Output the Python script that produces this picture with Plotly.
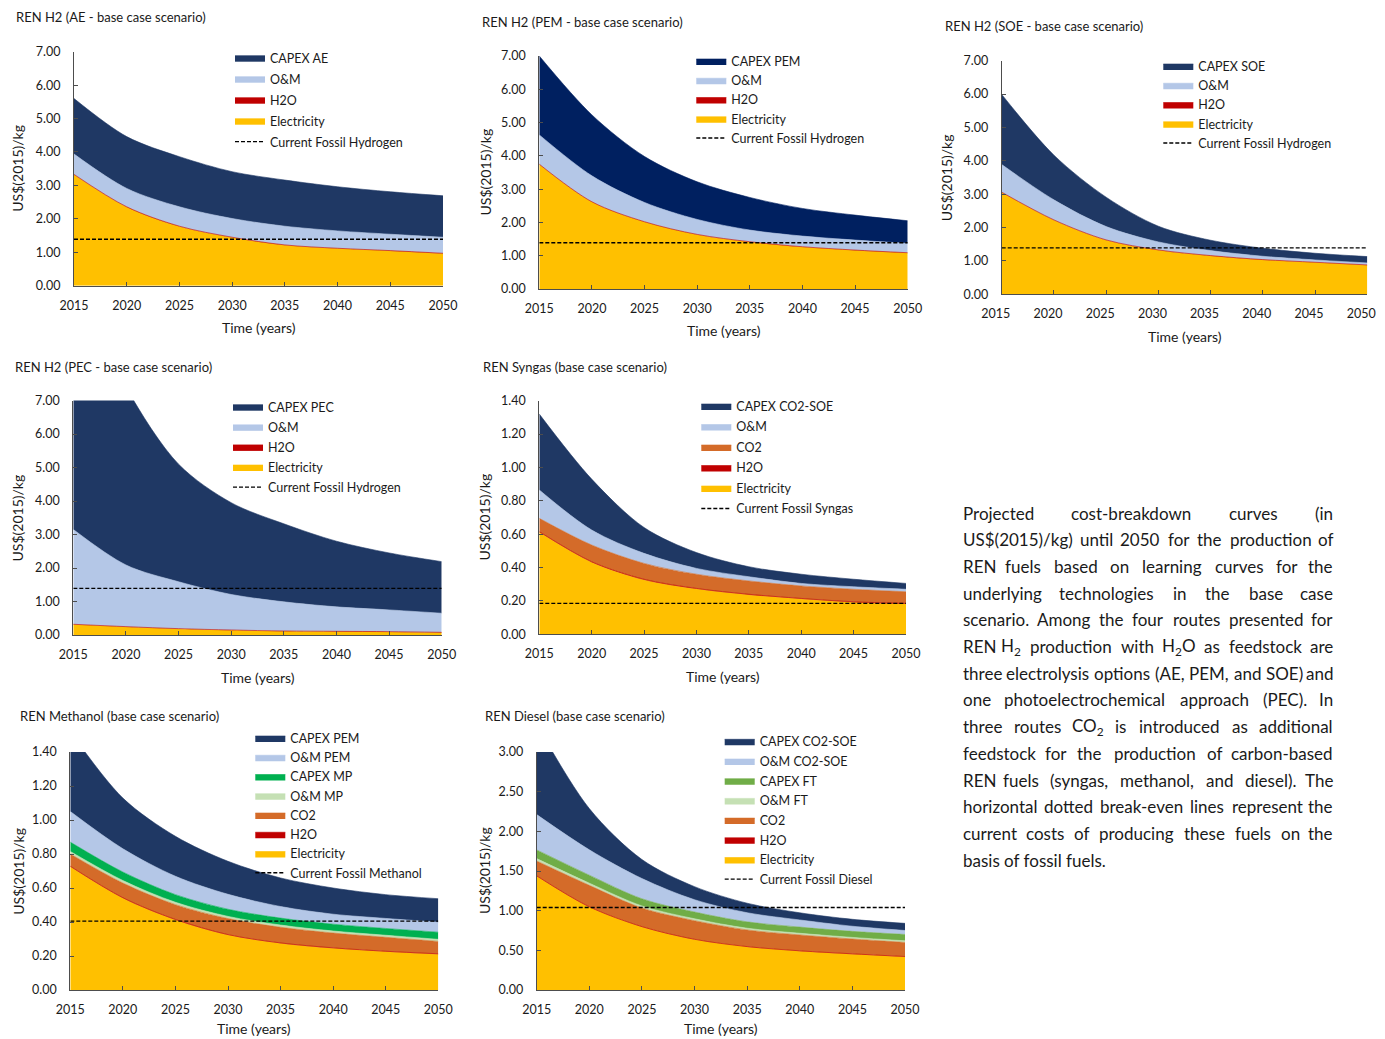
import re
import plotly.graph_objects as go

# page offset of the plot div (browser body margin) and figure size
OFF = 8
WF, HF = 1377, 1031
YEARS = [2015, 2020, 2025, 2030, 2035, 2040, 2045, 2050]
YEAR_TICKS = [2015, 2020, 2025, 2030, 2035, 2040, 2045, 2050]

# ---------------- data (US$(2015)/kg, stacked components) ----------------
AE_ELEC = [3.32, 2.35, 1.77, 1.44, 1.21, 1.11, 1.04, 0.96]
AE_H2O = [0.01, 0.01, 0.01, 0.01, 0.01, 0.01, 0.01, 0.01]
AE_OM = [0.61, 0.55, 0.58, 0.56, 0.56, 0.52, 0.49, 0.48]
AE_CAPEX = [1.66, 1.55, 1.50, 1.40, 1.38, 1.32, 1.27, 1.24]

PEM_ELEC = [3.74, 2.61, 2.01, 1.63, 1.41, 1.26, 1.16, 1.08]
PEM_H2O = [0.01, 0.01, 0.01, 0.01, 0.01, 0.01, 0.01, 0.01]
PEM_OM = [0.88, 0.78, 0.58, 0.45, 0.35, 0.32, 0.30, 0.28]
PEM_CAPEX = [2.37, 1.83, 1.38, 1.13, 0.98, 0.83, 0.75, 0.68]

SOE_ELEC = [3.05, 2.22, 1.62, 1.32, 1.15, 1.03, 0.95, 0.87]
SOE_H2O = [0.01, 0.01, 0.01, 0.01, 0.01, 0.01, 0.01, 0.01]
SOE_OM = [0.83, 0.60, 0.40, 0.24, 0.15, 0.10, 0.07, 0.06]
SOE_CAPEX = [2.10, 1.34, 0.88, 0.47, 0.31, 0.24, 0.20, 0.19]

PEC_ELEC = [0.31, 0.24, 0.18, 0.14, 0.11, 0.10, 0.09, 0.07]
PEC_H2O = [0.01, 0.01, 0.01, 0.01, 0.01, 0.01, 0.01, 0.01]
PEC_OM = [2.83, 1.84, 1.40, 1.06, 0.87, 0.73, 0.65, 0.57]
PEC_CAPEX = [7.65, 5.31, 3.51, 2.74, 2.33, 1.96, 1.70, 1.54]

SYN_ELEC = [0.611, 0.431, 0.326, 0.271, 0.236, 0.211, 0.191, 0.181]
SYN_H2O = [0.004, 0.004, 0.004, 0.004, 0.004, 0.004, 0.004, 0.004]
SYN_CO2 = [0.080, 0.100, 0.095, 0.085, 0.080, 0.075, 0.075, 0.070]
SYN_OM = [0.170, 0.090, 0.060, 0.035, 0.025, 0.015, 0.015, 0.015]
SYN_CAPEX = [0.455, 0.305, 0.155, 0.095, 0.060, 0.055, 0.045, 0.035]

MEOH_ELEC = [0.725, 0.540, 0.412, 0.323, 0.274, 0.245, 0.225, 0.210]
MEOH_H2O = [0.003, 0.003, 0.003, 0.003, 0.003, 0.003, 0.003, 0.003]
MEOH_CO2 = [0.072, 0.086, 0.087, 0.094, 0.092, 0.087, 0.082, 0.073]
MEOH_OM_MP = [0.015, 0.015, 0.014, 0.013, 0.013, 0.012, 0.012, 0.012]
MEOH_CAPEX_MP = [0.055, 0.050, 0.045, 0.042, 0.041, 0.040, 0.040, 0.042]
MEOH_OM_PEM = [0.180, 0.137, 0.108, 0.088, 0.068, 0.059, 0.059, 0.059]
MEOH_CAPEX_PEM = [0.470, 0.298, 0.235, 0.194, 0.168, 0.154, 0.140, 0.138]

DSL_ELEC = [1.435, 1.045, 0.795, 0.635, 0.543, 0.490, 0.452, 0.418]
DSL_H2O = [0.004, 0.004, 0.004, 0.004, 0.004, 0.004, 0.004, 0.004]
DSL_CO2 = [0.187, 0.270, 0.235, 0.235, 0.210, 0.200, 0.187, 0.178]
DSL_OM_FT = [0.030, 0.028, 0.026, 0.024, 0.022, 0.021, 0.020, 0.020]
DSL_CAPEX_FT = [0.110, 0.100, 0.090, 0.085, 0.080, 0.078, 0.076, 0.080]
DSL_OM_SOE = [0.445, 0.320, 0.255, 0.155, 0.115, 0.090, 0.065, 0.050]
DSL_CAPEX_SOE = [1.140, 0.520, 0.240, 0.165, 0.120, 0.090, 0.087, 0.090]

FOSSIL_H2 = 1.39
FOSSIL_SYNGAS = 0.185
FOSSIL_METHANOL = 0.405
FOSSIL_DIESEL = 1.04

BODY_LINES = [
    "Projected cost-breakdown curves (in",
    "US$(2015)/kg) until 2050 for the production of",
    "REN fuels based on learning curves for the",
    "underlying technologies in the base case",
    "scenario. Among the four routes presented for",
    "REN H<sub>2</sub> production with H<sub>2</sub>O as feedstock are",
    "three electrolysis options (AE, PEM, and SOE) and",
    "one photoelectrochemical approach (PEC). In",
    "three routes CO<sub>2</sub> is introduced as additional",
    "feedstock for the production of carbon-based",
    "REN fuels (syngas, methanol, and diesel). The",
    "horizontal dotted break-even lines represent the",
    "current costs of producing these fuels on the",
    "basis of fossil fuels.",
]

# ---------------- styling ----------------
FONT = "Lato"
TXT = "#1a1a1a"
AX = "#4d4d4d"
C_CAPEX = "#1F3864"
C_CAPEX_PEM = "#002060"
C_OM = "#B4C7E7"
C_H2O = "#C00000"
C_ELEC = "#FFC000"
C_CO2 = "#D46B29"
C_CAPEX_MP = "#00B050"
C_OM_MP = "#C5E0B4"
C_CAPEX_FT = "#70AD47"
C_OM_FT = "#C5E0B4"

# page-pixel layout of each panel
PANELS = [
    dict(title="REN H2 (AE - base case scenario)", box=(74, 443, 51.7, 285.7), ymax=7, dtick=1,
         layers=[("Electricity", AE_ELEC, C_ELEC), ("H2O", AE_H2O, C_H2O), ("O&M", AE_OM, C_OM),
                 ("CAPEX AE", AE_CAPEX, C_CAPEX)],
         fossil=(FOSSIL_H2, "Current Fossil Hydrogen"), tpos=(14, 17.5), ytx=18, leg=(237, 57.7, 21)),
    dict(title="REN H2 (PEM - base case scenario)", box=(539.3, 907.7, 56, 289), ymax=7, dtick=1,
         layers=[("Electricity", PEM_ELEC, C_ELEC), ("H2O", PEM_H2O, C_H2O), ("O&M", PEM_OM, C_OM),
                 ("CAPEX PEM", PEM_CAPEX, C_CAPEX_PEM)],
         fossil=(FOSSIL_H2, "Current Fossil Hydrogen"), tpos=(480, 22.5), ytx=485, leg=(698.3, 61, 18.1)),
    dict(title="REN H2 (SOE - base case scenario)", box=(1001.7, 1367.3, 60.7, 294.3), ymax=7, dtick=1,
         layers=[("Electricity", SOE_ELEC, C_ELEC), ("H2O", SOE_H2O, C_H2O), ("O&M", SOE_OM, C_OM),
                 ("CAPEX SOE", SOE_CAPEX, C_CAPEX)],
         fossil=(FOSSIL_H2, "Current Fossil Hydrogen"), tpos=(943.3, 26.5), ytx=946.7, leg=(1165.3, 66, 19.2),
         xshift=-6),
    dict(title="REN H2 (PEC - base case scenario)", box=(73.3, 441.7, 400.5, 635), ymax=7, dtick=1,
         layers=[("Electricity", PEC_ELEC, C_ELEC), ("H2O", PEC_H2O, C_H2O), ("O&M", PEC_OM, C_OM),
                 ("CAPEX PEC", PEC_CAPEX, C_CAPEX)],
         fossil=(FOSSIL_H2, "Current Fossil Hydrogen"), tpos=(13.3, 366.7), ytx=17.7, leg=(235, 406.7, 20.1)),
    dict(title="REN Syngas (base case scenario)", box=(539.3, 906, 400.7, 634.3), ymax=1.4, dtick=0.2,
         layers=[("Electricity", SYN_ELEC, C_ELEC), ("H2O", SYN_H2O, C_H2O), ("CO2", SYN_CO2, C_CO2),
                 ("O&M", SYN_OM, C_OM), ("CAPEX CO2-SOE", SYN_CAPEX, C_CAPEX)],
         fossil=(FOSSIL_SYNGAS, "Current Fossil Syngas"), tpos=(480.7, 366.7), ytx=484, leg=(703.3, 406, 20.5)),
    dict(title="REN Methanol (base case scenario)", box=(70.3, 438.3, 752, 990), ymax=1.4, dtick=0.2,
         layers=[("Electricity", MEOH_ELEC, C_ELEC), ("H2O", MEOH_H2O, C_H2O), ("CO2", MEOH_CO2, C_CO2),
                 ("O&M MP", MEOH_OM_MP, C_OM_MP), ("CAPEX MP", MEOH_CAPEX_MP, C_CAPEX_MP),
                 ("O&M PEM", MEOH_OM_PEM, C_OM), ("CAPEX PEM", MEOH_CAPEX_PEM, C_CAPEX)],
         fossil=(FOSSIL_METHANOL, "Current Fossil Methanol"), tpos=(17.7, 715.7), ytx=17.7, leg=(257.3, 738, 17.6)),
    dict(title="REN Diesel (base case scenario)", box=(536.7, 905, 752, 990), ymax=3, dtick=0.5,
         layers=[("Electricity", DSL_ELEC, C_ELEC), ("H2O", DSL_H2O, C_H2O), ("CO2", DSL_CO2, C_CO2),
                 ("O&M FT", DSL_OM_FT, C_OM_FT), ("CAPEX FT", DSL_CAPEX_FT, C_CAPEX_FT),
                 ("O&M CO2-SOE", DSL_OM_SOE, C_OM), ("CAPEX CO2-SOE", DSL_CAPEX_SOE, C_CAPEX)],
         fossil=(FOSSIL_DIESEL, "Current Fossil Diesel"), tpos=(483.3, 715.7), ytx=484, leg=(726.7, 741.3, 19.7)),
]

LEG_SIZE = 12.5
LEG_ITEM_H = max(LEG_SIZE * 1.3, 16) + 3


def fx(px):
    return (px - OFF) / WF


def fy(py):
    return 1 - (py - OFF) / HF


fig = go.Figure()
layout = {}
annotations = []


def ann(text, xp, yp, size, xanchor="left", angle=0):
    annotations.append(dict(text=text, x=fx(xp), y=fy(yp), xref="paper", yref="paper",
                            xanchor=xanchor, yanchor="middle", showarrow=False, textangle=angle,
                            font=dict(family=FONT, size=size, color=TXT)))


for i, p in enumerate(PANELS, start=1):
    sfx = "" if i == 1 else str(i)
    xa, ya, lg = "x" + sfx, "y" + sfx, "legend" + sfx
    n = len(p["layers"])
    for k, (name, vals, color) in enumerate(p["layers"]):
        fig.add_trace(go.Scatter(
            x=YEARS, y=vals, name=name, mode="lines", stackgroup="s%d" % i,
            line=dict(color=color, width=0.6, shape="spline", smoothing=0.9),
            fillcolor=color, xaxis=xa, yaxis=ya, legend=lg, legendrank=n - k,
            legendgroup="%s_%d" % (lg, k), hoverinfo="skip"))
    fv, fname = p["fossil"]
    fig.add_trace(go.Scatter(
        x=[YEARS[0], YEARS[-1]], y=[fv, fv], name=fname, mode="lines",
        line=dict(color="black", width=1.3, dash="4px,2px"),
        xaxis=xa, yaxis=ya, legend=lg, legendrank=n + 1, legendgroup="%s_f" % lg, hoverinfo="skip"))

    x0, x1, yt, yb = p["box"]
    layout["xaxis" + sfx] = dict(
        domain=[fx(x0), fx(x1)], anchor=ya, range=[2015, 2050], tickvals=YEAR_TICKS,
        ticks="inside", ticklen=4, tickwidth=1, tickcolor=AX, showline=True, linecolor=AX, linewidth=1,
        showgrid=False, zeroline=False, ticklabelstandoff=8, ticklabelshift=p.get("xshift", 0),
        automargin=False, tickfont=dict(family=FONT, size=12.5, color=TXT))
    layout["yaxis" + sfx] = dict(
        domain=[fy(yb), fy(yt)], anchor=xa, range=[0, p["ymax"]], tick0=0, dtick=p["dtick"],
        tickformat=".2f", ticks="inside", ticklen=4, tickwidth=1, tickcolor=AX, showline=True,
        linecolor=AX, linewidth=1, showgrid=False, zeroline=False, ticklabelstandoff=10, automargin=False,
        tickfont=dict(family=FONT, size=12.5, color=TXT))

    sx, cy, sp = p["leg"]
    layout[lg] = dict(
        x=fx(sx - 7), y=fy(cy - LEG_ITEM_H / 2 - 5), xanchor="left", yanchor="top",
        bgcolor="rgba(0,0,0,0)", borderwidth=0, traceorder="grouped",
        tracegroupgap=max(0, sp - LEG_ITEM_H), itemwidth=30,
        font=dict(family=FONT, size=LEG_SIZE, color=TXT))

    ann(p["title"], p["tpos"][0], p["tpos"][1], 13)
    ann("US$(2015)/kg", p["ytx"], (yt + yb) / 2, 14, xanchor="center", angle=-90)
    ann("Time (years)", (x0 + x1) / 2, min(yb + 42, 1028), 14, xanchor="center")

# ---------------- justified caption text ----------------
CW = {' ': 0.226, 'a': 0.479, 'b': 0.525, 'c': 0.423, 'd': 0.525, 'e': 0.498, 'f': 0.305, 'g': 0.471,
      'h': 0.525, 'i': 0.229, 'j': 0.239, 'k': 0.455, 'l': 0.229, 'm': 0.799, 'n': 0.525, 'o': 0.527,
      'p': 0.525, 'q': 0.525, 'r': 0.349, 's': 0.391, 't': 0.335, 'u': 0.525, 'v': 0.452, 'w': 0.715,
      'x': 0.433, 'y': 0.453, 'z': 0.395, 'A': 0.579, 'B': 0.544, 'C': 0.533, 'D': 0.615, 'E': 0.488,
      'F': 0.459, 'G': 0.631, 'H': 0.623, 'I': 0.252, 'K': 0.52, 'L': 0.42, 'M': 0.855, 'N': 0.646,
      'O': 0.662, 'P': 0.517, 'R': 0.543, 'S': 0.459, 'T': 0.487, 'U': 0.653, '(': 0.303, ')': 0.303,
      '.': 0.252, ',': 0.25, '-': 0.306, '/': 0.386, '$': 0.507}


def char_em(c):
    if c.isdigit():
        return 0.58
    if c.isupper():
        return CW.get(c, 0.6) * 1.12
    return CW.get(c, 0.5) * 1.08


BODY_SIZE = 17
TX0, TX1 = 961, 1335
TY0, TDY = 513.3, 26.67


def word_px(w):
    total = 0.0
    for part in re.split(r"(<sub>.*?</sub>)", w):
        if part.startswith("<sub>"):
            total += sum(char_em(c) for c in part[5:-6]) * 0.7
        else:
            total += sum(char_em(c) for c in part)
    return total * BODY_SIZE


for li, line in enumerate(BODY_LINES):
    yp = TY0 + li * TDY
    words = line.split(" ")
    if li == len(BODY_LINES) - 1:
        ann(line, TX0, yp, BODY_SIZE)
        continue
    widths = [word_px(w) for w in words]
    gap = (TX1 - TX0 - sum(widths)) / (len(words) - 1)
    pos = TX0
    for j, (w, wd) in enumerate(zip(words, widths)):
        if j == 0:
            ann(w, pos, yp, BODY_SIZE, xanchor="left")
        elif j == len(words) - 1:
            ann(w, TX1, yp, BODY_SIZE, xanchor="right")
        else:
            ann(w, pos + wd / 2, yp, BODY_SIZE, xanchor="center")
        pos += wd + gap

fig.update_layout(
    width=WF, height=HF, autosize=False, margin=dict(l=0, r=0, t=0, b=0, pad=0, autoexpand=False),
    paper_bgcolor="white", plot_bgcolor="white", showlegend=True,
    font=dict(family=FONT, size=12, color=TXT), annotations=annotations, **layout)

fig.write_html("out.html")
